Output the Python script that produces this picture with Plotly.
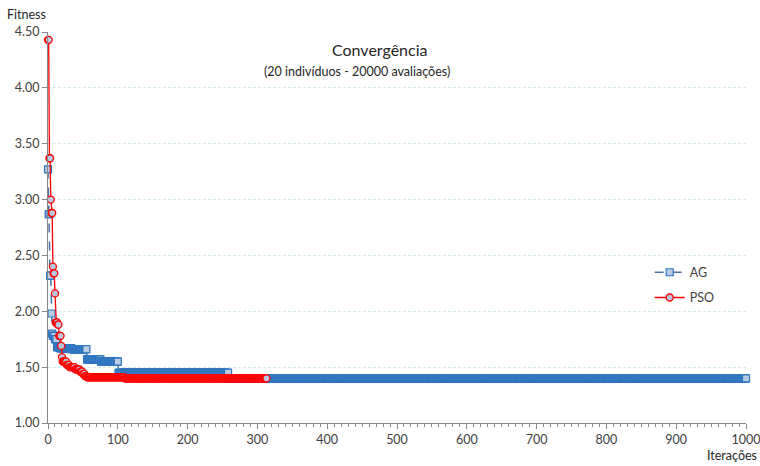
import numpy as np
import plotly.graph_objects as go

# AG (genetic algorithm): iteration where the best fitness changes, and its value
ag_change_iter = [0, 1, 3, 5, 6, 7, 10, 13, 17, 34, 56, 76, 101, 259]
ag_values = [3.27, 2.87, 2.32, 1.98, 1.80, 1.78, 1.75, 1.68, 1.67, 1.66, 1.57, 1.55, 1.45, 1.40]
ag_last_iter = 1000

# PSO: iteration where the best fitness changes, and its value
pso_change_iter = [0, 2, 4, 5, 7, 8, 10, 11, 14, 16, 19, 20, 21, 27, 31, 39, 46, 50, 53, 56, 110]
pso_values = [4.43, 3.37, 3.00, 2.88, 2.40, 2.34, 2.16, 1.90, 1.88, 1.78, 1.69, 1.59, 1.55, 1.52,
              1.50, 1.48, 1.46, 1.44, 1.42, 1.41, 1.40]
pso_last_iter = 313

x_ticks = [0, 100, 200, 300, 400, 500, 600, 700, 800, 900, 1000]
y_ticks = [1.0, 1.5, 2.0, 2.5, 3.0, 3.5, 4.0, 4.5]


def hold(change_iter, values, last):
    it = np.arange(0, last + 1)
    idx = np.searchsorted(np.array(change_iter), it, side="right") - 1
    return it, np.array(values)[idx]


ag_x, ag_y = hold(ag_change_iter, ag_values, ag_last_iter)
pso_x, pso_y = hold(pso_change_iter, pso_values, pso_last_iter)

FONT = "Lato, 'Liberation Sans', sans-serif"

fig = go.Figure()
fig.add_trace(go.Scatter(
    x=ag_x, y=ag_y, name="AG", mode="lines+markers", legendgroup="ag",
    line=dict(color="#4E6FA3", width=1.5, dash="dash"),
    marker=dict(symbol="square", size=7, color="#B8CCE4",
                line=dict(color="#2E75C0", width=1.2)),
    cliponaxis=False,
))
fig.add_trace(go.Scatter(
    x=pso_x, y=pso_y, name="PSO", mode="lines+markers", legendgroup="pso",
    line=dict(color="#FF0000", width=1.3),
    marker=dict(symbol="circle", size=7, color="#B8C7DE",
                line=dict(color="#FF0000", width=1.3)),
    cliponaxis=False,
))

fig.update_layout(
    width=760, height=466,
    margin=dict(l=48, r=14, t=32, b=43, autoexpand=False),
    paper_bgcolor="white", plot_bgcolor="white",
    font=dict(family=FONT, size=12.5, color="#404040"),
    showlegend=True,
    legend=dict(x=0.862, y=0.423, xanchor="left", yanchor="top",
                bgcolor="rgba(0,0,0,0)", font=dict(size=12.5, color="#404040"),
                tracegroupgap=6, itemwidth=30),
    xaxis=dict(
        range=[0, 1000], tickvals=x_ticks, ticktext=[str(v) for v in x_ticks],
        showgrid=False, zeroline=False, showline=True, linecolor="#868686", linewidth=1,
        ticks="outside", ticklen=5, tickcolor="#868686", automargin=False,
        ticklabeloverflow="allow",
        minor=dict(dtick=10, ticks="outside", ticklen=3, tickcolor="#868686"),
        tickfont=dict(size=12.5, color="#404040"),
    ),
    yaxis=dict(
        range=[1.0, 4.5], tickvals=y_ticks, ticktext=[f"{v:.2f}" for v in y_ticks],
        showgrid=True, gridcolor="#D6ECF2", griddash="3px,2px", gridwidth=1,
        zeroline=False, showline=True, linecolor="#868686", linewidth=1,
        ticks="outside", ticklen=5, tickcolor="#868686", automargin=False,
        ticklabeloverflow="allow",
        tickfont=dict(size=12.5, color="#404040"),
    ),
    annotations=[
        dict(text="Fitness", xref="paper", yref="paper", x=-0.061, y=1.0, yshift=8,
             xanchor="left", yanchor="bottom", showarrow=False,
             font=dict(size=12.5, color="#262626")),
        dict(text="Iterações", xref="paper", yref="paper", x=1.018, y=0, yshift=-23,
             xanchor="right", yanchor="top", showarrow=False,
             font=dict(size=12.5, color="#262626")),
        dict(text="Convergência", xref="paper", yref="paper", x=0.475, y=0.955,
             xanchor="center", yanchor="middle", showarrow=False,
             font=dict(size=16, color="#262626")),
        dict(text="(20 indivíduos - 20000 avaliações)", xref="paper", yref="paper",
             x=0.443, y=0.898, xanchor="center", yanchor="middle", showarrow=False,
             font=dict(size=12.5, color="#262626")),
    ],
)

fig.write_html("out.html", config={"displayModeBar": False},
               post_script="document.body.style.margin='0';document.body.style.padding='0';")
